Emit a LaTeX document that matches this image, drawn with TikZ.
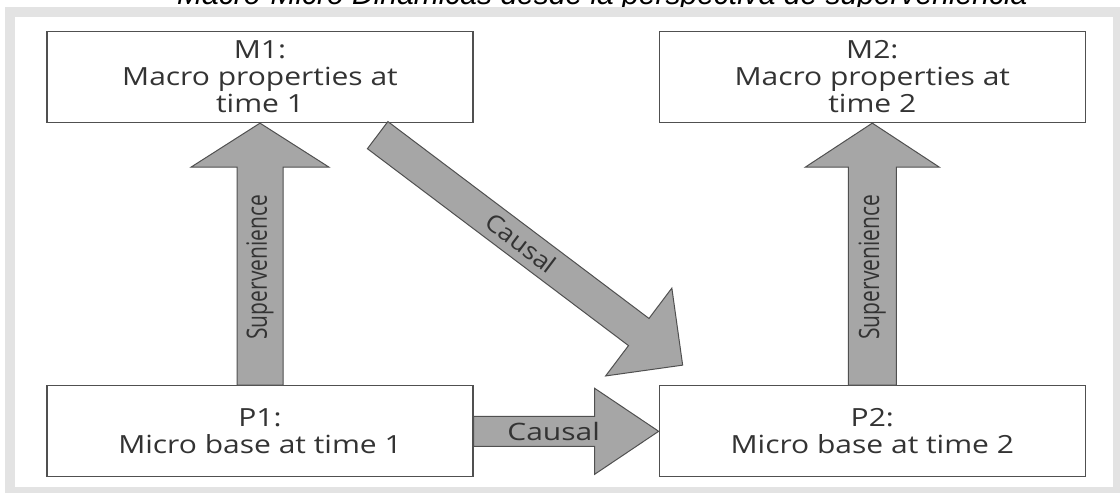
\documentclass[tikz,border=0pt]{standalone}
\usepackage{fontspec}
\usetikzlibrary{positioning,calc}
\newfontfamily\boxfont[FakeStretch=1.2]{Open Sans}
\newfontfamily\widefont[FakeStretch=1.25]{Open Sans}
\newfontfamily\narrowfont[FakeStretch=0.75]{Open Sans}
\newfontfamily\diagfont[FakeStretch=1.1]{Open Sans}
\newfontfamily\titlefont{Liberation Sans}
\definecolor{framegray}{HTML}{E3E3E3}
\definecolor{arrowgray}{HTML}{A6A6A6}
\definecolor{edgegray}{HTML}{505050}
\definecolor{inkgray}{HTML}{333333}
% #1 from, #2 to, #3 shaft half width, #4 head half width, #5 head length, #6 name
\newcommand\blockarrow[6]{%
  \coordinate (#6hb) at ($(#2)!#5!(#1)$);
  \draw[blockarrow] ($(#1)!#3!90:(#2)$) -- ($(#6hb)!#3!-90:(#1)$) -- ($(#6hb)!#4!-90:(#1)$)
    -- (#2) -- ($(#6hb)!#4!90:(#1)$) -- ($(#6hb)!#3!90:(#1)$) -- ($(#1)!#3!-90:(#2)$) -- cycle;
}
\tikzset{
  box/.style={draw=edgegray, line width=1.3pt, fill=white, minimum width=426pt,
    minimum height=91pt, inner sep=0pt, align=center, text=inkgray,
    font={\boxfont\fontsize{25}{27}\selectfont}},
  blockarrow/.style={draw=edgegray, fill=arrowgray, line width=1pt, line join=miter},
  lbl/.style={text=inkgray, inner sep=0pt}
}
\begin{document}
\begin{tikzpicture}[x=1pt, y=1pt]
      \useasboundingbox (0,0) rectangle (1120,493);
      \clip (0,0) rectangle (1120,493);
      \node (title) [anchor=base west, inner sep=0pt, font={\titlefont\itshape\fontsize{30}{36}\selectfont}] at (177,488) {Macro-Micro Dinámicas desde la perspectiva de superveniencia};
      \fill[framegray] (5,0) rectangle (1120,486);
      \fill[white] (15,6) rectangle (1113,476);
      \node (M1) [box] at (260,416) {M1:\\Macro properties at\\time 1};
      \node (P1) [box, below=262pt of M1] {P1:\\Micro base at time 1};
      \node (M2) [box, right=185pt of M1] {M2:\\Macro properties at\\time 2};
      \node (P2) [box, right=185pt of P1] {P2:\\Micro base at time 2};
      \coordinate (dtail) at ($(M1.south east)+(-96,-12)$);
      \coordinate (dtip) at ($(P2.north west)+(24,20)$);
      \blockarrow{P1.north}{M1.south}{23pt}{69pt}{44pt}{sv1}
      \blockarrow{P2.north}{M2.south}{24pt}{67pt}{44pt}{sv2}
      \blockarrow{P1.east}{P2.west}{15pt}{43pt}{64pt}{cz1}
      \blockarrow{dtail}{dtip}{17pt}{55pt}{55pt}{cz2}
      \node (sl1) [lbl, rotate=90, font={\narrowfont\fontsize{28}{30}\selectfont}] at ($(P1.north)!0.45!(M1.south)$) {Supervenience};
      \node (sl2) [lbl, rotate=90, font={\narrowfont\fontsize{28}{30}\selectfont}] at ($(P2.north)!0.45!(M2.south)$) {Supervenience};
      \node (cl1) [lbl, font={\widefont\fontsize{24}{26}\selectfont}] at ($(P1.east)+(80,0)$) {Causal};
      \node (cl2) [lbl, rotate=-37, font={\diagfont\fontsize{24}{26}\selectfont}] at ($(dtail)!0.47!(dtip)$) {Causal};
\end{tikzpicture}
\end{document}
